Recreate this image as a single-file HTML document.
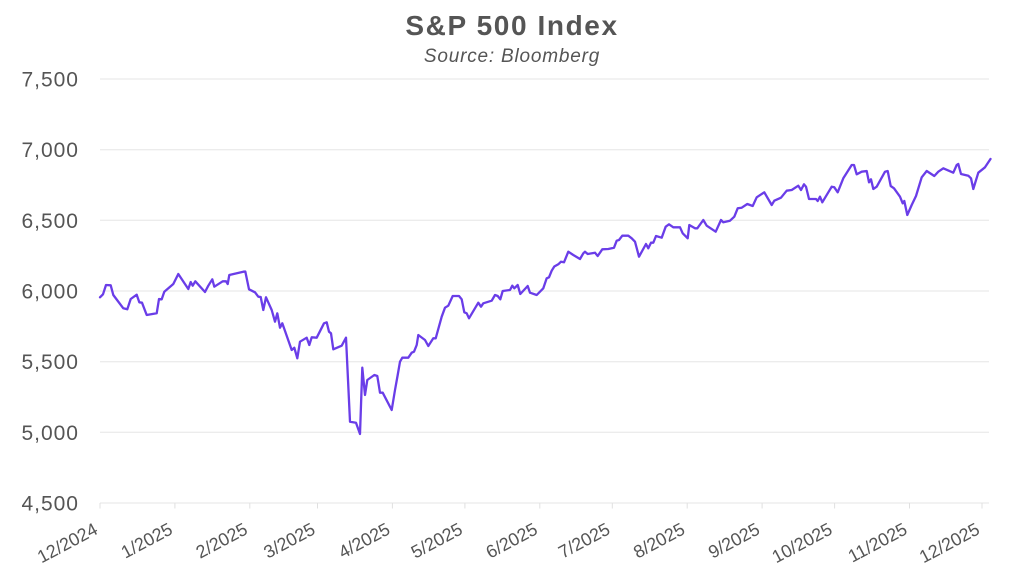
<!DOCTYPE html>
<html>
<head>
<meta charset="utf-8">
<style>
  html, body { margin: 0; padding: 0; background: #ffffff; }
  svg { display: block; }
  .t { font-family: "Liberation Sans", sans-serif; fill: #555555; }
</style>
</head>
<body>
<svg width="1024" height="588" viewBox="0 0 1024 588" xmlns="http://www.w3.org/2000/svg">
  <rect x="0" y="0" width="1024" height="588" fill="#ffffff"/>

  <!-- Title -->
  <text class="t" x="512" y="35" text-anchor="middle" font-size="28" font-weight="bold" letter-spacing="1.6">S&amp;P 500 Index</text>
  <text class="t" x="512" y="62" text-anchor="middle" font-size="19" font-style="italic" letter-spacing="0.8" fill="#5e5e5e">Source: Bloomberg</text>

  <!-- Gridlines -->
  <g stroke="#e6e6e6" stroke-width="1">
    <line x1="100" y1="79" x2="989" y2="79"/>
    <line x1="100" y1="149.7" x2="989" y2="149.7"/>
    <line x1="100" y1="220.3" x2="989" y2="220.3"/>
    <line x1="100" y1="291" x2="989" y2="291"/>
    <line x1="100" y1="361.7" x2="989" y2="361.7"/>
    <line x1="100" y1="432.3" x2="989" y2="432.3"/>
    <line x1="100" y1="503" x2="989" y2="503"/>
  </g>

  <!-- Y labels -->
  <g class="t" font-size="21" text-anchor="end" letter-spacing="1">
    <text x="79" y="86.5">7,500</text>
    <text x="79" y="157.2">7,000</text>
    <text x="79" y="227.8">6,500</text>
    <text x="79" y="298.5">6,000</text>
    <text x="79" y="369.2">5,500</text>
    <text x="79" y="439.8">5,000</text>
    <text x="79" y="510.5">4,500</text>
  </g>

  <!-- X ticks -->
  <g stroke="#e0e0e0" stroke-width="1">
    <line x1="100" y1="503" x2="100" y2="508.5"/>
    <line x1="174.9" y1="503" x2="174.9" y2="508.5"/>
    <line x1="249.8" y1="503" x2="249.8" y2="508.5"/>
    <line x1="317.5" y1="503" x2="317.5" y2="508.5"/>
    <line x1="392.4" y1="503" x2="392.4" y2="508.5"/>
    <line x1="464.9" y1="503" x2="464.9" y2="508.5"/>
    <line x1="539.8" y1="503" x2="539.8" y2="508.5"/>
    <line x1="612.3" y1="503" x2="612.3" y2="508.5"/>
    <line x1="687.2" y1="503" x2="687.2" y2="508.5"/>
    <line x1="762.1" y1="503" x2="762.1" y2="508.5"/>
    <line x1="834.6" y1="503" x2="834.6" y2="508.5"/>
    <line x1="909.5" y1="503" x2="909.5" y2="508.5"/>
    <line x1="982" y1="503" x2="982" y2="508.5"/>
  </g>

  <!-- X labels -->
  <g class="t" font-size="18" text-anchor="end">
    <text x="99" y="533" transform="rotate(-28 99 533)">12/2024</text>
    <text x="173.9" y="533" transform="rotate(-28 173.9 533)">1/2025</text>
    <text x="248.8" y="533" transform="rotate(-28 248.8 533)">2/2025</text>
    <text x="316.5" y="533" transform="rotate(-28 316.5 533)">3/2025</text>
    <text x="391.4" y="533" transform="rotate(-28 391.4 533)">4/2025</text>
    <text x="463.9" y="533" transform="rotate(-28 463.9 533)">5/2025</text>
    <text x="538.8" y="533" transform="rotate(-28 538.8 533)">6/2025</text>
    <text x="611.3" y="533" transform="rotate(-28 611.3 533)">7/2025</text>
    <text x="686.2" y="533" transform="rotate(-28 686.2 533)">8/2025</text>
    <text x="761.1" y="533" transform="rotate(-28 761.1 533)">9/2025</text>
    <text x="833.6" y="533" transform="rotate(-28 833.6 533)">10/2025</text>
    <text x="908.5" y="533" transform="rotate(-28 908.5 533)">11/2025</text>
    <text x="981" y="533" transform="rotate(-28 981 533)">12/2025</text>
  </g>

  <!-- Series -->
  <polyline fill="none" stroke="#6a3de8" stroke-width="2.3" stroke-linejoin="round" stroke-linecap="round" points="
100,297.3 103,294.3 106,285 110.7,285.3 113.3,295 123.3,308.3 127.3,309.3 130.7,299 136.7,294.7 139.3,302.3 142,302.7 146.7,315 156.7,313.3 159,299 161.7,299.3 164.3,291.7 173.3,284 178.3,274 188.3,289 190.7,282 192.7,285.7 195.3,281.3 205,292 208.3,285.7 212.3,279.3 214.3,286.7 222.7,281.3 226,281.3 227.7,284 229.3,275 243.3,271.7 245.3,271.5 249,289.3
255,292.3 258.3,296.7 260.7,297 263.3,310 266,297.3 271.7,310 275,321.7 277.3,313.3 280,327.7 282.3,323.3 291.7,350 294.3,347.7 297.3,358.3 300,341.7 306.7,337.7 309.3,345 311.7,337.3 316.7,337.7 324,323.3 326.7,322.3 329,331.7 331,333.3 333.3,349.3 341.7,345.7 346,337.7 350,421.7 356,422.7 360,434 362.3,367.7 365,395 367.3,380 374.3,375 377.3,376 380,392.7 382.7,392.7 391.7,410
395,390 397.7,375 400,361.7 402.3,357.7 408.3,357.7 411.7,352.7 414,351.7 416.7,345 418.3,335 425,340 428.3,346 433.3,338.3 435.7,338.3 441.7,316.7 445,307.7 448.3,305.7 452.7,296 459,296 461.7,299.3 464.3,312.3 466.7,313.3 469,318.3 478.3,302.7 481,306.7 483.3,303.3 491.7,300.7 495,295 497.7,296 500.3,299.3 502.7,291 510,290 512.3,285.7 514.3,288.3 517.7,285 520.3,294 527.7,286 530,292.7 536.7,295 543.3,288.3 546.7,278.3 549,277.3
551.7,270.7 554.3,266.5 558.3,264.3 561,261.7 564,262.3 568.3,251.7 573.3,255 580,259 583.3,253.3 585,251.7 587.7,254 595,252.7 597.7,256 602.3,249.3 608.3,249 614,247.7 616.7,240.7 619,240 622.3,235.7 628.3,235.7 631.7,238.3 635,241.7 639,256.7 646,244 648.3,248.3 651,242.7 653.3,242.7 656,236 661.7,237.7 665.7,226.7 669,224.3 673.3,227.3 680,227.3 682.7,233.3 687.7,238.3 689.3,225 695,228.3 697.3,228.3
703.3,220 706.7,225.7 715.7,231.7 721,220 723.3,222.3 730,220.7 734.3,216.7 737.7,208.3 741.7,207.7 747.3,204 752.7,206 756.7,197.3 764.3,192.3 771.7,205 774.3,200.7 781,197.7 786.7,190.7 791.7,190 798.3,185.7 801,190 804,184.3 806,186.7 809,199 816,199 817.7,201 820,196.7 822.3,202.3 831.7,186.7 834.3,187.3 837.7,192.3 843.3,178.3 851.7,165 854,165
856.7,174.3 861.7,171.7 866.7,171 869,182.3 871,179.3 873.3,189 876.7,186.7 885,171.7 887.7,171 890.7,186 894,188.3 900,196.7 902.7,203.3 904.3,201 907.3,215 911.7,205 916,196 921.7,177.3 926.7,171 934.3,176 938.3,171.7 943.3,168.3 953.3,172.7 956.7,165 958.3,164 961,174 968.3,175.7 971,178.3 973.3,189 978.3,172.7 985,167.3 990.5,159"/>
</svg>
</body>
</html>
